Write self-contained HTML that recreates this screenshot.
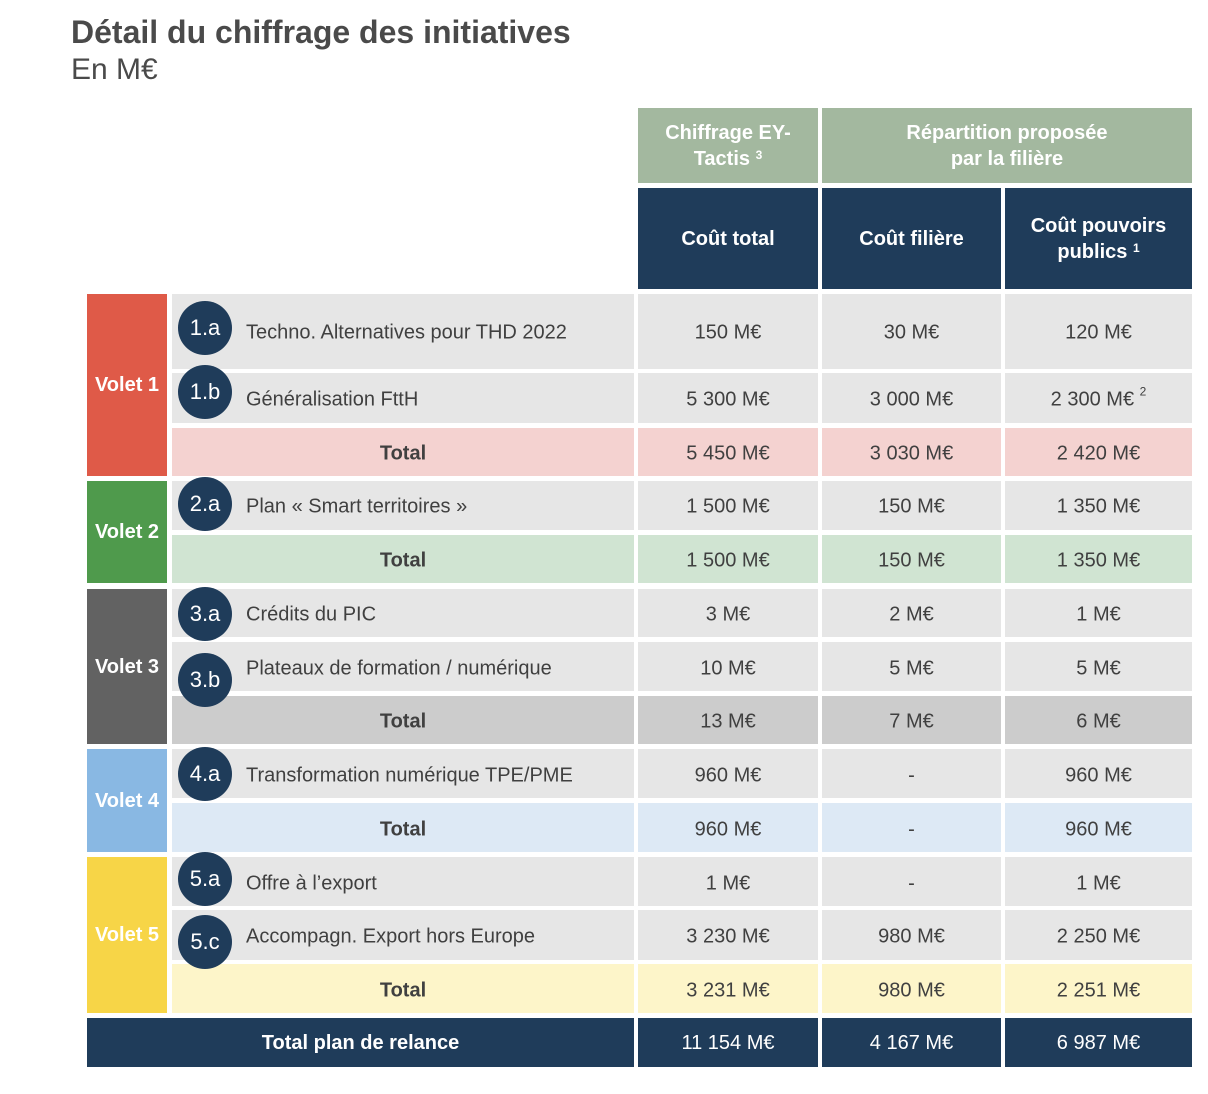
<!DOCTYPE html>
<html><head><meta charset="utf-8"><style>
body{margin:0;width:1208px;height:1094px;background:#fff;position:relative;font-family:"Liberation Sans",sans-serif;overflow:hidden}
.a{position:absolute;box-sizing:border-box}
.t{position:absolute;transform:translate(-50%,-50%);white-space:nowrap;font-size:20px;color:#404040}
.l{position:absolute;transform:translateY(-50%);white-space:nowrap;font-size:20px;color:#404040}
.c{position:absolute;width:54px;height:54px;border-radius:50%;background:#1f3c5a;color:#fff;font-size:22px;display:flex;align-items:center;justify-content:center}
.h{display:flex;align-items:center;justify-content:center;text-align:center;color:#fff;font-weight:bold;font-size:20px;line-height:26px}
sup{font-size:12px;vertical-align:top;position:relative;top:-4px}
</style></head><body>
<div class="a" style="left:71px;top:14px;font-size:32px;font-weight:bold;color:#4a4a4a">Détail du chiffrage des initiatives</div>
<div class="a" style="left:71px;top:53px;font-size:30px;color:#4a4a4a">En M€</div>
<div class="a h" style="left:638px;top:108px;width:180px;height:75px;background:#a3b89f"><span>Chiffrage EY-<br>Tactis <sup>3</sup></span></div>
<div class="a h" style="left:822px;top:108px;width:370px;height:75px;background:#a3b89f"><span>Répartition proposée<br>par la filière</span></div>
<div class="a h" style="left:638px;top:188px;width:180px;height:101px;background:#1f3c5a"><span>Coût total</span></div>
<div class="a h" style="left:822px;top:188px;width:179px;height:101px;background:#1f3c5a"><span>Coût filière</span></div>
<div class="a h" style="left:1005px;top:188px;width:187px;height:101px;background:#1f3c5a"><span>Coût pouvoirs<br>publics <sup>1</sup></span></div>
<div id="g"></div>
<script>
var g=document.getElementById('g'),h='',h2='';
var rows=[
[294,369,'#e6e6e6','1.a','Techno. Alternatives pour THD 2022',['150 M€','30 M€','120 M€'],328,333],
[373,423,'#e6e6e6','1.b','Généralisation FttH',['5 300 M€','3 000 M€','2 300 M€ <sup>2</sup>'],392,400],
[428,476,'#f4d2d0','','Total',['5 450 M€','3 030 M€','2 420 M€']],
[481,530,'#e6e6e6','2.a','Plan « Smart territoires »',['1 500 M€','150 M€','1 350 M€'],504,507],
[535,583,'#d0e4d2','','Total',['1 500 M€','150 M€','1 350 M€']],
[589,637,'#e6e6e6','3.a','Crédits du PIC',['3 M€','2 M€','1 M€'],614,615],
[642,691,'#e6e6e6','3.b','Plateaux de formation / numérique',['10 M€','5 M€','5 M€'],680,669],
[696,744,'#cccccc','','Total',['13 M€','7 M€','6 M€']],
[749,798,'#e6e6e6','4.a','Transformation numérique TPE/PME',['960 M€','-','960 M€'],774,776],
[803,852,'#dde9f5','','Total',['960 M€','-','960 M€']],
[857,906,'#e6e6e6','5.a','Offre à l’export',['1 M€','-','1 M€'],879,884],
[910,960,'#e6e6e6','5.c','Accompagn. Export hors Europe',['3 230 M€','980 M€','2 250 M€'],942,937],
[964,1013,'#fdf5c9','','Total',['3 231 M€','980 M€','2 251 M€']]];
var cols=[[638,818],[822,1001],[1005,1192]];
rows.forEach(function(r){
 var cy=(r[0]+r[1])/2+2;
 h+='<div class="a" style="left:172px;top:'+r[0]+'px;width:462px;height:'+(r[1]-r[0])+'px;background:'+r[2]+'"></div>';
 cols.forEach(function(c,i){h+='<div class="a" style="left:'+c[0]+'px;top:'+r[0]+'px;width:'+(c[1]-c[0])+'px;height:'+(r[1]-r[0])+'px;background:'+r[2]+'"></div><div class="t" style="left:'+((c[0]+c[1])/2)+'px;top:'+(r[7]||cy)+'px">'+r[5][i]+'</div>';});
 if(r[3]){h2+='<div class="c" style="left:178px;top:'+(r[6]-27)+'px">'+r[3]+'</div><div class="l" style="left:246px;top:'+r[7]+'px">'+r[4]+'</div>';}
 else h+='<div class="t" style="left:403px;top:'+cy+'px;font-weight:bold">Total</div>';
});
[[294,476,'#df5a48','Volet 1'],[481,583,'#4f9a4c','Volet 2'],[589,744,'#626262','Volet 3'],[749,852,'#89b8e3','Volet 4'],[857,1013,'#f7d547','Volet 5']].forEach(function(v){
 h+='<div class="a h" style="left:87px;top:'+v[0]+'px;width:80px;height:'+(v[1]-v[0])+'px;background:'+v[2]+'">'+v[3]+'</div>';});
h+='<div class="a h" style="left:87px;top:1018px;width:547px;height:49px;background:#1f3c5a">Total plan de relance</div>';
['11 154 M€','4 167 M€','6 987 M€'].forEach(function(s,i){var c=cols[i];h+='<div class="a h" style="left:'+c[0]+'px;top:1018px;width:'+(c[1]-c[0])+'px;height:49px;background:#1f3c5a;font-weight:normal">'+s+'</div>';});
g.innerHTML=h+h2;
</script>
</body></html>
